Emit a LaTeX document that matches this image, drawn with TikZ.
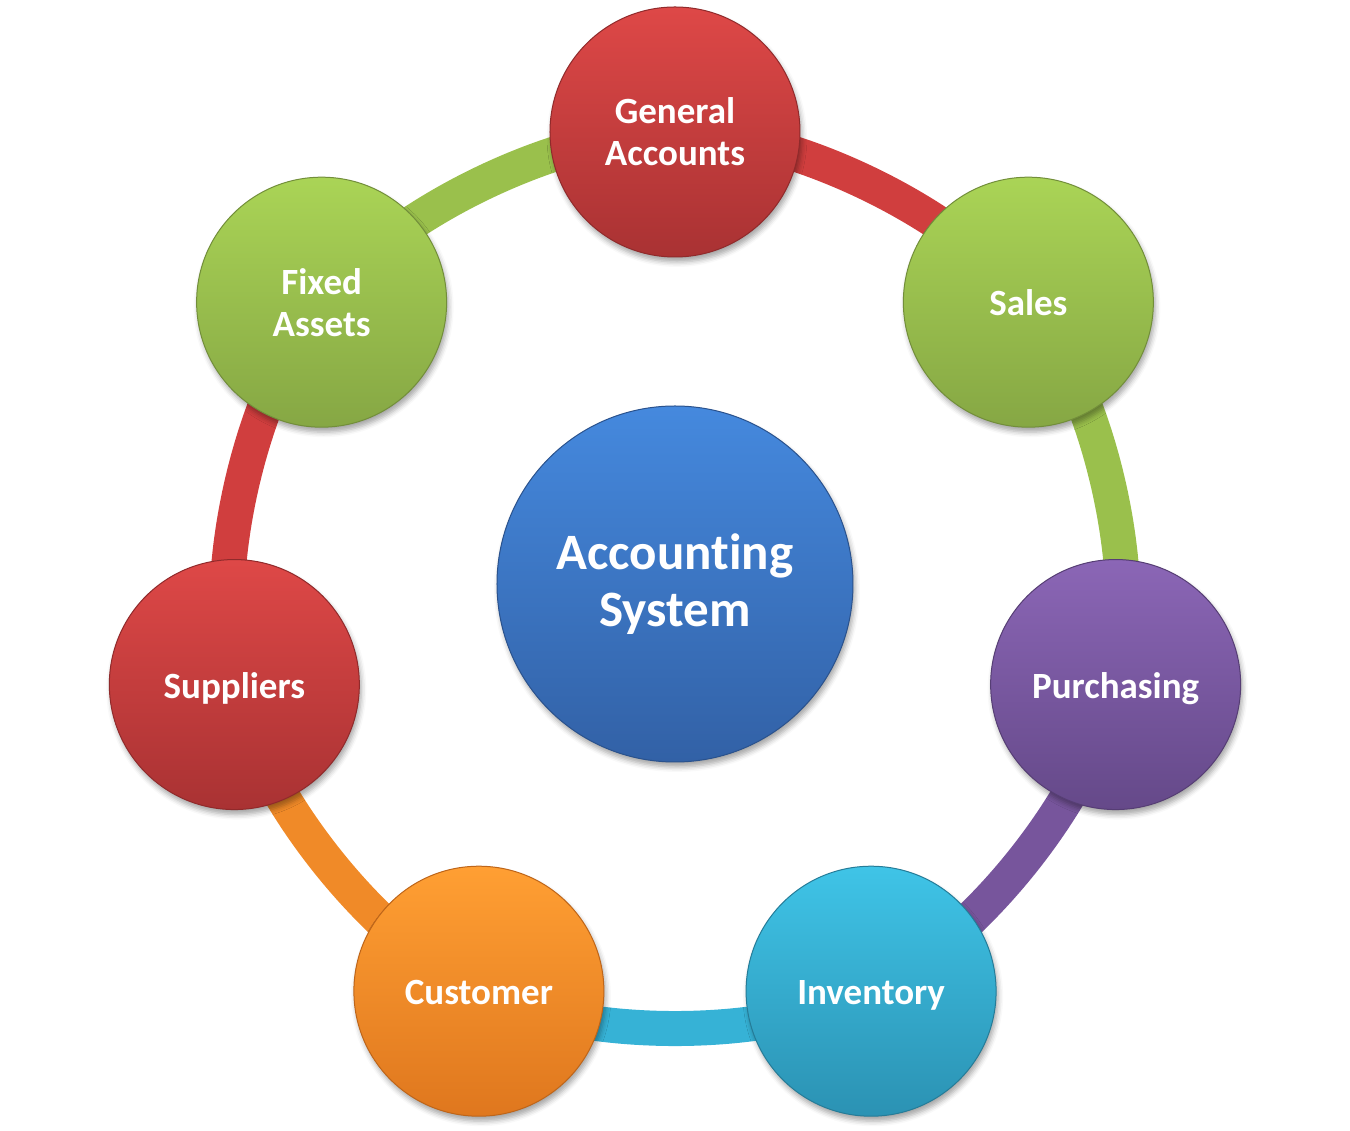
\documentclass[tikz,border=0pt]{standalone}
\usepackage{fontspec}
\setmainfont{Carlito}[Ligatures=NoCommon]
\usetikzlibrary{backgrounds}
\usetikzlibrary{shadows.blur}
\definecolor{acsredtop}{HTML}{DE4847}
\definecolor{acsredbot}{HTML}{A93233}
\definecolor{acsredmid}{HTML}{D03E3E}
\definecolor{acsgreentop}{HTML}{AAD456}
\definecolor{acsgreenbot}{HTML}{86A744}
\definecolor{acsgreenmid}{HTML}{9AC04C}
\definecolor{acspurpletop}{HTML}{8B66B6}
\definecolor{acspurplebot}{HTML}{654989}
\definecolor{acspurplemid}{HTML}{77559C}
\definecolor{acscyantop}{HTML}{3FC4E7}
\definecolor{acscyanbot}{HTML}{2B92B3}
\definecolor{acscyanmid}{HTML}{36B2D6}
\definecolor{acsorangetop}{HTML}{FF9F33}
\definecolor{acsorangebot}{HTML}{DF771E}
\definecolor{acsorangemid}{HTML}{F08A28}
\definecolor{acsbluetop}{HTML}{4589DE}
\definecolor{acsbluebot}{HTML}{3261A6}
\newcommand{\acsringr}{452}
\newcommand{\acsstep}{51.4286}
\newcommand{\acsbend}{25.71}
\newcommand{\acssmall}{250pt}
\newcommand{\acsbig}{356pt}

\begin{document}
\begin{tikzpicture}[x=1pt,y=1pt,
    ball/.style={circle,inner sep=0pt,align=center,text=white,
      minimum size=\acssmall,
      font=\fontsize{37}{42}\selectfont\bfseries,
      top color=#1top,bottom color=#1bot,draw=#1bot!85!black,line width=1pt,
      blur shadow={shadow xshift=2pt,shadow yshift=-5pt,
        shadow blur radius=5pt,shadow opacity=35}},
    oneline/.style={text height=30pt,text depth=3pt},
    ring/.style={draw=#1mid,line width=35pt}]
  \useasboundingbox (-675,-547) rectangle (675,584);

  \node[ball=acsblue,minimum size=\acsbig,
    font=\fontsize{51}{57}\selectfont\bfseries] (acs) at (0,0)
    {Accounting\\System};

  \node[ball=acsred]            (ga)  at (90:\acsringr) {General\\Accounts};
  \node[ball=acsgreen,oneline]  (sa)  at (90-\acsstep:\acsringr) {Sales};
  \node[ball=acspurple,oneline] (pu)  at (90-2*\acsstep:\acsringr) {Purchasing};
  \node[ball=acscyan,oneline]   (inv) at (90-3*\acsstep:\acsringr) {Inventory};
  \node[ball=acsorange,oneline] (cu)  at (90-4*\acsstep:\acsringr) {Customer};
  \node[ball=acsred,oneline]    (su)  at (90-5*\acsstep:\acsringr) {Suppliers};
  \node[ball=acsgreen]          (fa)  at (90-6*\acsstep:\acsringr) {Fixed\\Assets};

  \begin{scope}[on background layer]
    \draw[ring=acsred]    (ga.center)  to[bend left=\acsbend,looseness=0.75] (sa.center);
    \draw[ring=acsgreen]  (sa.center)  to[bend left=\acsbend,looseness=0.75] (pu.center);
    \draw[ring=acspurple] (pu.center)  to[bend left=\acsbend,looseness=0.75] (inv.center);
    \draw[ring=acscyan]   (inv.center) to[bend left=\acsbend,looseness=0.75] (cu.center);
    \draw[ring=acsorange] (cu.center)  to[bend left=\acsbend,looseness=0.75] (su.center);
    \draw[ring=acsred]    (su.center)  to[bend left=\acsbend,looseness=0.75] (fa.center);
    \draw[ring=acsgreen]  (fa.center)  to[bend left=\acsbend,looseness=0.75] (ga.center);
  \end{scope}
\end{tikzpicture}
\end{document}
